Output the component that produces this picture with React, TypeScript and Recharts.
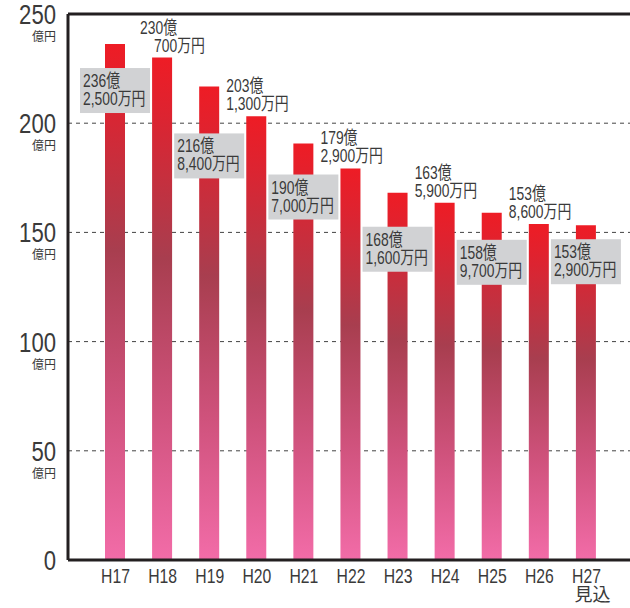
import React from 'react';
import { BarChart, Bar, XAxis, YAxis, CartesianGrid, ReferenceLine, LabelList } from 'recharts';

// 年度
const years = ['H17', 'H18', 'H19', 'H20', 'H21', 'H22', 'H23', 'H24', 'H25', 'H26', 'H27'];
const yearNotes = ['', '', '', '', '', '', '', '', '', '', '見込'];
// 金額（億円）
const amounts = [236.25, 230.07, 216.84, 203.13, 190.7, 179.29, 168.16, 163.59, 158.97, 153.86, 153.29];
const yTicks = [0, 50, 100, 150, 200, 250];

// 灰色ラベルの下げ幅（棒の上端から）
const boxDrop = [24, 0, 47, 0, 31, 0, 34, 0, 27, 0, 14];

const data = years.map((y, i) => ({ year: y, note: yearNotes[i], value: amounts[i] }));

const FONT = "'Liberation Sans', 'Noto Sans CJK JP', sans-serif";
const INK = '#3a3a3a';

const fmtOku = (v: number) => `${Math.floor(v)}億`;
const manOf = (v: number) => Math.round((v - Math.floor(v)) * 10000);
const fmtMan = (v: number) => `${manOf(v).toLocaleString('en-US')}万円`;

const Narrow = ({ x, y, size, sx, anchor = 'start', children }: any) => (
  <text
    transform={`translate(${x},${y}) scale(${sx},1)`}
    fontSize={size}
    fontFamily={FONT}
    fill={INK}
    textAnchor={anchor}
  >
    {children}
  </text>
);

const YTick = ({ x, y, payload }: any) => (
  <g>
    <Narrow x={x} y={y + 10} size={28} sx={0.79} anchor="end">{payload.value}</Narrow>
    {payload.value > 0 && (
      <text x={x} y={y + 27} fontSize={12} fontFamily={FONT} fill={INK} textAnchor="end">億円</text>
    )}
  </g>
);

const XTick = ({ x, y, payload, index }: any) => (
  <g>
    <Narrow x={x + 1} y={y + 15} size={21} sx={0.75} anchor="middle">{payload.value}</Narrow>
    {yearNotes[index] && (
      <text x={x - 11} y={y + 33} fontSize={18} fontFamily={FONT} fill={INK}>{yearNotes[index]}</text>
    )}
  </g>
);

const AmountLabel = ({ x, y, width, index }: any) => {
  const v = amounts[index];
  const cx = x + width / 2;
  const short = manOf(v) < 1000;
  if (index % 2 === 0) {
    const top = y + boxDrop[index];
    return (
      <g>
        <rect x={cx - 35} y={top} width={70} height={45} fill="#d1d2d4" />
        <Narrow x={cx - 32} y={top + 19} size={18.5} sx={0.75}>{fmtOku(v)}</Narrow>
        <Narrow x={cx - 32 + (short ? 14 : 0)} y={top + 37} size={18.5} sx={0.75}>{fmtMan(v)}</Narrow>
      </g>
    );
  }
  const left = cx - 30 + (short ? 8 : 0);
  return (
    <g>
      <Narrow x={left} y={y - 24} size={18.5} sx={0.75}>{fmtOku(v)}</Narrow>
      <Narrow x={left + (short ? 14 : 0)} y={y - 6} size={18.5} sx={0.75}>{fmtMan(v)}</Narrow>
    </g>
  );
};

export default function App() {
  return (
    <div style={{ position: 'absolute', left: 0, top: 0, width: 630, height: 608, background: '#fff' }}>
      <BarChart width={630} height={608} data={data} margin={{ top: 14, right: 0, bottom: 0, left: 0 }} barCategoryGap={0}>
        <defs>
          <linearGradient id="barGrad" x1="0" y1="0" x2="0" y2="1">
            <stop offset="0" stopColor="#ee1c25" />
            <stop offset="0.12" stopColor="#dc2431" />
            <stop offset="0.4" stopColor="#a83e4f" />
            <stop offset="0.7" stopColor="#cf527c" />
            <stop offset="1" stopColor="#f26ca8" />
          </linearGradient>
        </defs>
        <CartesianGrid vertical={false} stroke="#444" strokeDasharray="4 4" />
        <XAxis
          dataKey="year"
          height={48}
          padding={{ left: 23, right: 21 }}
          tickLine={false}
          tickSize={6}
          tickMargin={2}
          axisLine={{ stroke: '#231f20', strokeWidth: 3 }}
          tick={<XTick />}
          interval={0}
        />
        <YAxis
          width={68}
          domain={[0, 250]}
          ticks={yTicks}
          tickLine={false}
          tickSize={6}
          tickMargin={6}
          axisLine={{ stroke: '#231f20', strokeWidth: 3 }}
          tick={<YTick />}
        />
        <ReferenceLine y={250} stroke="#231f20" strokeWidth={3} />
        <Bar dataKey="value" barSize={20} fill="url(#barGrad)" isAnimationActive={false}>
          <LabelList dataKey="value" content={<AmountLabel />} />
        </Bar>
      </BarChart>
    </div>
  );
}
